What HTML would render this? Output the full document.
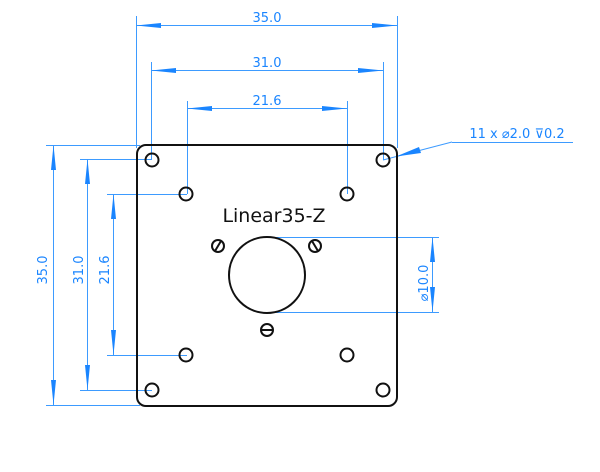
<!DOCTYPE html>
<html><head><style>body{margin:0;background:#fff}svg{display:block}</style></head><body>
<svg width="600" height="472" xmlns="http://www.w3.org/2000/svg" font-family="DejaVu Sans, sans-serif">
<g stroke="#3d9bff" stroke-width="1" fill="none">
<line x1="136.5" y1="16" x2="136.5" y2="148"/>
<line x1="397.5" y1="16" x2="397.5" y2="148"/>
<line x1="151.5" y1="62" x2="151.5" y2="160"/>
<line x1="383.5" y1="62" x2="383.5" y2="160"/>
<line x1="187.5" y1="101" x2="187.5" y2="194"/>
<line x1="347.5" y1="101" x2="347.5" y2="194"/>
<line x1="136" y1="25.5" x2="397" y2="25.5"/>
<line x1="151" y1="70.5" x2="383" y2="70.5"/>
<line x1="187" y1="108.5" x2="347" y2="108.5"/>
<line x1="46" y1="145.5" x2="140" y2="145.5"/>
<line x1="46" y1="405.5" x2="140" y2="405.5"/>
<line x1="80" y1="159.5" x2="152" y2="159.5"/>
<line x1="80" y1="390.5" x2="152" y2="390.5"/>
<line x1="107" y1="194.5" x2="187" y2="194.5"/>
<line x1="107" y1="355.5" x2="187" y2="355.5"/>
<line x1="53.5" y1="145" x2="53.5" y2="405"/>
<line x1="87.5" y1="159" x2="87.5" y2="390"/>
<line x1="113.5" y1="194" x2="113.5" y2="355"/>
<line x1="267" y1="237.5" x2="439" y2="237.5"/>
<line x1="267" y1="312.5" x2="439" y2="312.5"/>
<line x1="432.5" y1="237" x2="432.5" y2="312"/>
<line x1="383" y1="160" x2="452" y2="142"/>
<line x1="452" y1="142.5" x2="573" y2="142.5"/>
</g>
<g fill="#1a85ff">
<polygon points="136,25.5 161,23 161,28"/><polygon points="397,25.5 372,23 372,28"/>
<polygon points="151,70.5 176,68 176,73"/><polygon points="383,70.5 358,68 358,73"/>
<polygon points="187,108.5 212,106 212,111"/><polygon points="347,108.5 322,106 322,111"/>
<polygon points="53.5,145 51,170 56,170"/><polygon points="53.5,405 51,380 56,380"/>
<polygon points="87.5,159 85,184 90,184"/><polygon points="87.5,390 85,365 90,365"/>
<polygon points="113.5,194 111,219 116,219"/><polygon points="113.5,355 111,330 116,330"/>
<polygon points="432.5,237 430,262 435,262"/><polygon points="432.5,312 430,287 435,287"/>
<polygon points="396,156.5 419,147 421,153"/>
</g>
<g fill="#1a85ff" font-size="13" text-anchor="middle">
<text x="267" y="22">35.0</text>
<text x="267" y="67">31.0</text>
<text x="267" y="105">21.6</text>
<text transform="translate(47,270) rotate(-90)">35.0</text>
<text transform="translate(83,270) rotate(-90)">31.0</text>
<text transform="translate(109,270) rotate(-90)">21.6</text>
<text transform="translate(428,283) rotate(-90)">⌀10.0</text>
<text x="517" y="138">11 x ⌀2.0 ⊽0.2</text>
</g>
<g stroke="#111" stroke-width="2" fill="none">
<rect x="137" y="145" width="260" height="261" rx="9"/>
<circle cx="152" cy="160" r="6.5"/><circle cx="383" cy="160" r="6.5"/>
<circle cx="152" cy="390" r="6.5"/><circle cx="383" cy="390" r="6.5"/>
<circle cx="186" cy="194" r="6.5"/><circle cx="347" cy="194" r="6.5"/>
<circle cx="186" cy="355" r="6.5"/><circle cx="347" cy="355" r="6.5"/>
<circle cx="267" cy="275" r="38"/>
<circle cx="218" cy="246" r="6"/><line x1="215" y1="251" x2="221" y2="241"/>
<circle cx="315" cy="246" r="6"/><line x1="312" y1="241" x2="318" y2="251"/>
<circle cx="267" cy="330" r="6"/><line x1="261" y1="330" x2="273" y2="330"/>
</g>
<text x="274" y="222" font-size="19" text-anchor="middle" fill="#111">Linear35-Z</text>
</svg>
</body></html>
